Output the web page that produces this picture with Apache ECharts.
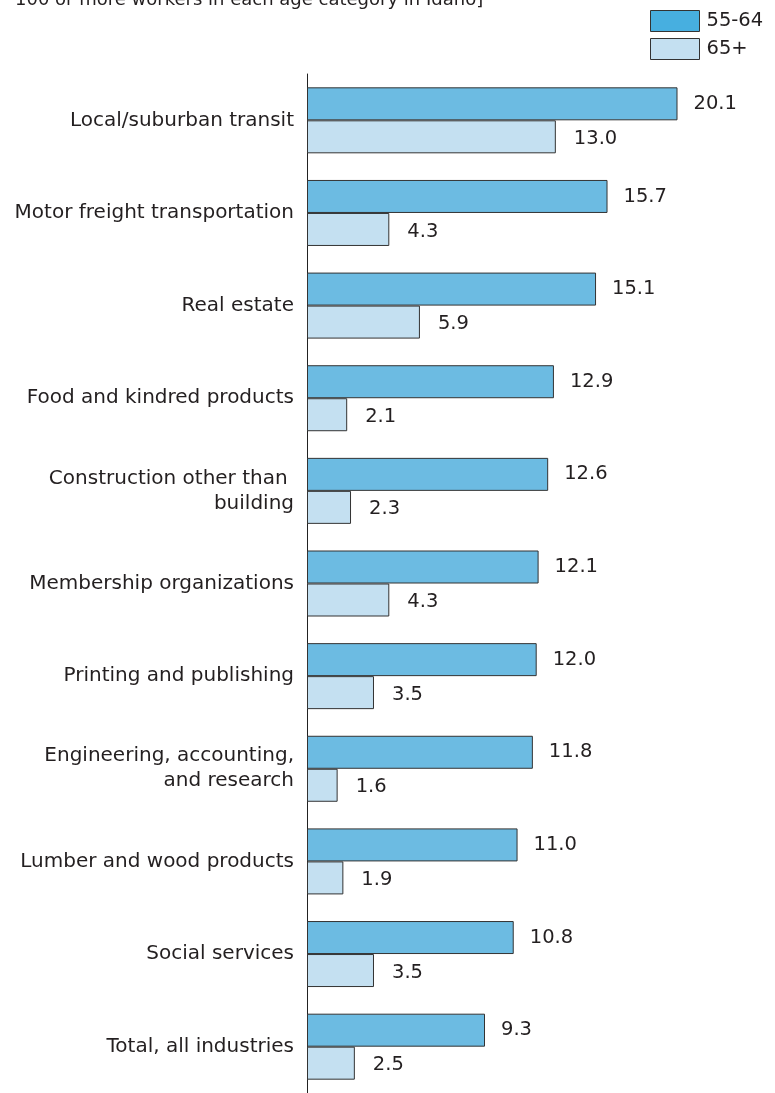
<!DOCTYPE html>
<html>
<head>
<meta charset="utf-8">
<script src="https://cdn.jsdelivr.net/npm/echarts@6/dist/echarts.min.js"></script>
<style>html,body{margin:0;padding:0;background:#fff}#chart{width:775px;height:1093px}</style>
</head>
<body>
<div id="chart"></div>
<script>
const categories = [
  "Local/suburban transit",
  "Motor freight transportation",
  "Real estate",
  "Food and kindred products",
  "Construction other than \nbuilding",
  "Membership organizations",
  "Printing and publishing",
  "Engineering, accounting,\nand research",
  "Lumber and wood products",
  "Social services",
  "Total, all industries"
];
const age55to64 = [20.1, 15.7, 15.1, 12.9, 12.6, 12.1, 12.0, 11.8, 11.0, 10.8, 9.3];
const age65plus = [13.0, 4.3, 5.9, 2.1, 2.3, 4.3, 3.5, 1.6, 1.9, 3.5, 2.5];
const seriesNames = ["55-64", "65+"];
const headerText = "100 or more workers in each age category in Idaho]";

const FONT = "DejaVu Sans";
const FS = 20;
const FSV = 19.5;
const TXT = "#231f20";
const chart = echarts.init(document.getElementById('chart'), null, {renderer: 'canvas'});
chart.setOption({
  animation: false,
  backgroundColor: '#fff',
  textStyle: {fontFamily: FONT},
  graphic: [{
    type: 'text', left: 15, top: -9,
    style: {text: headerText, font: '18px "DejaVu Sans"', fill: TXT}
  }],
  legend: {
    orient: 'vertical', left: 650, top: 10, padding: 0, icon: 'rect',
    itemWidth: 49, itemHeight: 21, itemGap: 6,
    textStyle: {fontSize: FSV, color: TXT, fontFamily: FONT, padding: [0,0,0,2]},
    data: [
      {name: seriesNames[0], itemStyle: {color: '#47afe0', borderColor: '#333', borderWidth: 1}},
      {name: seriesNames[1], itemStyle: {color: '#c4e0f1', borderColor: '#333', borderWidth: 1}}
    ]
  },
  grid: {left: 307, right: 98, top: 74, bottom: -3.5, containLabel: false},
  xAxis: {type: 'value', min: 0, max: 19.33, show: false},
  yAxis: {
    type: 'category', data: categories, inverse: true,
    axisLine: {show: true, lineStyle: {color: '#222', width: 1}},
    axisTick: {show: false},
    axisLabel: {fontSize: FS, color: TXT, fontFamily: FONT, margin: 13, lineHeight: 25, align: 'right', padding: [0,0,11,0]}
  },
  series: [
    {
      name: seriesNames[0], type: 'bar', data: age55to64, barWidth: 33, barGap: '0%', clip: true,
      itemStyle: {color: '#6cbbe2', borderColor: '#333', borderWidth: 1},
      label: {show: true, position: 'right', distance: 16, fontSize: FSV, color: TXT, fontFamily: FONT,
        formatter: p => p.value.toFixed(1)}
    },
    {
      name: seriesNames[1], type: 'bar', data: age65plus, barWidth: 33, clip: true,
      itemStyle: {color: '#c4e0f1', borderColor: '#333', borderWidth: 1},
      label: {show: true, position: 'right', distance: 18, offset: [0, 2], fontSize: FSV, color: TXT, fontFamily: FONT,
        formatter: p => p.value.toFixed(1)}
    }
  ]
});
</script>
</body>
</html>
